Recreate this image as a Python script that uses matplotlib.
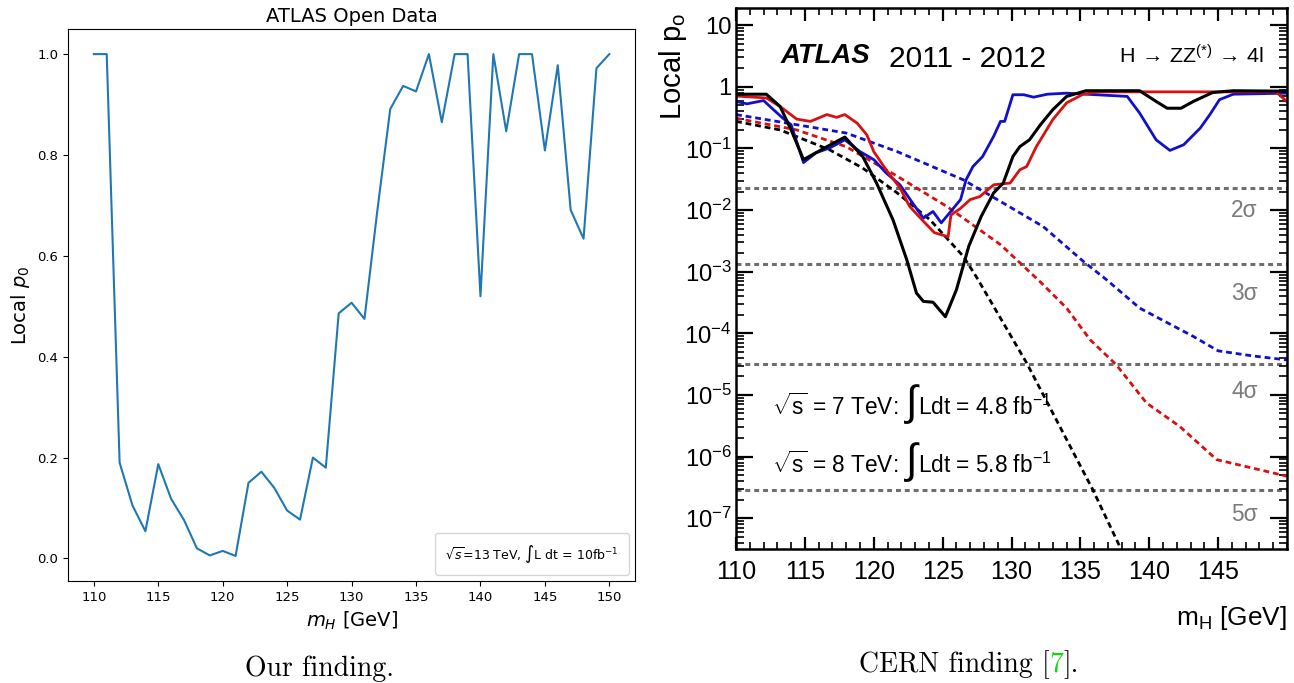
import numpy as np
import matplotlib
matplotlib.use('Agg')
import matplotlib.pyplot as plt
from matplotlib import font_manager
from matplotlib.font_manager import FontProperties
from matplotlib.lines import Line2D
from matplotlib.ticker import LogLocator, MultipleLocator, NullFormatter

# ---- our scan (1 GeV steps) ----
mass_ours = np.arange(110, 151)
p0_ours = [1.0, 1.0, 0.19, 0.105, 0.054, 0.187, 0.118, 0.076, 0.02, 0.006,
           0.015, 0.005, 0.15, 0.172, 0.14, 0.095, 0.077, 0.2, 0.18, 0.486,
           0.507, 0.475, 0.69, 0.891, 0.937, 0.926, 1.0, 0.865, 1.0, 1.0,
           0.52, 1.0, 0.847, 1.0, 1.0, 0.809, 0.978, 0.691, 0.634, 0.972, 1.0]

# ---- ATLAS 2011-2012 H->ZZ*->4l local p0 ----
m_obs_comb = [110, 112.2, 113.2, 114.0, 114.9, 116.6, 117.9, 119.2, 120.2, 121.4,
              122.4, 123.1, 123.6, 124.3, 125.2, 126.0, 126.9, 127.8, 128.7, 129.4,
              130.1, 130.6, 131.3, 132.1, 133.0, 134.0, 135.4, 139.3, 140.5, 141.3,
              142.3, 143.2, 144.6, 146.1, 150]
p_obs_comb = [0.76, 0.76, 0.48, 0.20, 0.066, 0.107, 0.153, 0.074, 0.0275, 0.0069,
              1.55e-3, 4.5e-4, 3.3e-4, 3.2e-4, 1.86e-4, 5.1e-4, 2.6e-3, 7.9e-3, 0.019, 0.0275,
              0.074, 0.107, 0.138, 0.243, 0.427, 0.70, 0.865, 0.865, 0.58, 0.45,
              0.45, 0.58, 0.81, 0.865, 0.85]

m_obs_8 = [110, 112.2, 113.2, 114.4, 115.4, 116.6, 117.3, 117.9, 118.8, 119.5,
           120.0, 120.9, 121.9, 122.6, 123.6, 124.4, 125.4, 125.6, 126.3, 127.0,
           127.7, 128.7, 129.9, 130.6, 131.1, 131.8, 133.0, 134.0, 135.2, 136.4,
           149.2, 150]
p_obs_8 = [0.71, 0.66, 0.48, 0.30, 0.275, 0.355, 0.32, 0.355, 0.257, 0.166,
           0.089, 0.045, 0.023, 0.0115, 6.6e-3, 4.3e-3, 3.7e-3, 8.3e-3, 0.0107, 0.0148,
           0.0166, 0.0257, 0.0275, 0.045, 0.051, 0.107, 0.295, 0.55, 0.76, 0.83,
           0.83, 0.575]

m_obs_7 = [110, 110.8, 112.0, 112.7, 113.4, 114.0, 114.9, 115.8, 116.8, 117.9,
           119.0, 120.0, 120.9, 121.9, 122.9, 123.6, 124.3, 124.9, 126.3, 126.7,
           127.2, 127.9, 128.7, 129.2, 129.5, 130.1, 130.9, 131.6, 132.6, 134.0,
           138.4, 139.3, 140.5, 141.5, 142.5, 143.7, 144.4, 145.1, 146.1, 150]
p_obs_7 = [0.58, 0.53, 0.60, 0.43, 0.31, 0.243, 0.059, 0.085, 0.102, 0.138,
           0.089, 0.066, 0.040, 0.0257, 0.0123, 7.4e-3, 9.5e-3, 6.2e-3, 0.0148, 0.031,
           0.051, 0.074, 0.157, 0.275, 0.275, 0.745, 0.745, 0.68, 0.76, 0.79,
           0.70, 0.376, 0.138, 0.093, 0.115, 0.214, 0.355, 0.62, 0.76, 0.79]

m_exp_7 = [110, 114.4, 118.0, 121.7, 126.5, 129.2, 132.3, 135.2, 136.9, 139.3,
           143.2, 145.0, 147.5, 150]
p_exp_7 = [0.355, 0.243, 0.178, 0.089, 0.031, 0.0138, 5.4e-3, 1.48e-3, 7.4e-4, 2.57e-4,
           8.9e-5, 5.2e-5, 4.3e-5, 3.7e-5]

m_exp_8 = [110, 114.4, 118.0, 121.7, 125.3, 129.2, 132.1, 134.0, 135.7, 137.6,
           139.8, 142.2, 144.9, 147.5, 150]
p_exp_8 = [0.31, 0.20, 0.107, 0.0355, 0.0115, 2.75e-3, 6.8e-4, 2.57e-4, 7.9e-5, 3.1e-5,
           7.4e-6, 3.1e-6, 8.9e-7, 6.5e-7, 4.8e-7]

m_exp_comb = [110, 113.2, 116.8, 119.2, 121.7, 124.1, 126.5, 127.5, 131.1, 135.9,
              137.75, 138.3]
p_exp_comb = [0.275, 0.20, 0.095, 0.048, 0.019, 6.9e-3, 1.78e-3, 7.9e-4, 3.3e-5, 2.9e-7,
              3.9e-8, 2.1e-8]

sigma_labels = ['2\u03c3', '3\u03c3', '4\u03c3', '5\u03c3']
sigma_p = [0.02275, 1.35e-3, 3.17e-5, 2.87e-7]
sigma_label_y = [0.614, 0.460, 0.279, 0.051]

yticks_log = [10.0 ** k for k in range(-7, 2)]
ytick_labels = [r'$\mathregular{10^{-%d}}$' % -k for k in range(-7, 0)] + ['1', '10']
xticks_cern = list(range(110, 150, 5))

lumi_lines = [('7', '4.8'), ('8', '5.8')]

# ---- fonts ----
names = {f.name for f in font_manager.fontManager.ttflist}
if 'Liberation Sans Narrow' in names:
    narrow, k = 'Liberation Sans Narrow', 1.0
else:
    narrow, k = 'Liberation Sans', 0.86
plt.rcParams['mathtext.rm'] = narrow
plt.rcParams['mathtext.it'] = narrow + ':italic'
plt.rcParams['mathtext.bf'] = narrow + ':bold'
plt.rcParams['mathtext.sf'] = narrow


def nfont(size, **kw):
    return FontProperties(family=narrow, size=size * k, math_fontfamily='custom', **kw)


fig = plt.figure(figsize=(12.94, 6.83), dpi=100)
rend = fig.canvas.get_renderer()


def text_row(x, y, parts, **kw):
    # lay pieces of text one after another along a common baseline
    for s, fp, extra, gap in parts:
        x += gap / fig.bbox.width
        t = fig.text(x, y, s, ha='left', va='baseline', fontproperties=fp, **extra, **kw)
        x = t.get_window_extent(rend).x1 / fig.bbox.width


# ================= left: our finding =================
ax1 = fig.add_axes([0.0526, 0.1493, 0.4382, 0.8082])
ax1.plot(mass_ours, p0_ours, color='#1f77b4', lw=1.5)
ax1.set_title('ATLAS Open Data', fontsize=14, pad=5)
ax1.set_xlabel('$m_H$ [GeV]', fontsize=14)
ax1.set_ylabel('Local $p_0$', fontsize=14)
ax1.tick_params(labelsize=9.5)
ax1.legend([Line2D([], [], linestyle='none')],
           [r'$\sqrt{s}$=13 TeV, $\int$L dt = 10fb$^{-1}$'],
           loc='lower right', handlelength=0, handletextpad=0, fontsize=9,
           borderpad=0.8)

# ================= right: CERN finding =================
ax2 = fig.add_axes([0.5688, 0.1962, 0.4258, 0.7921])
ax2.set_yscale('log')
ax2.set_xlim(110, 150)
ax2.set_ylim(10 ** -7.5, 10 ** 1.28)

for p in sigma_p:
    ax2.axhline(p, color='#6e6e6e', lw=2.2, linestyle=(0, (1.6, 1.3)), zorder=1)
for lbl, yy in zip(sigma_labels, sigma_label_y):
    ax2.text(0.947, yy, lbl, transform=ax2.transAxes, ha='right', va='baseline',
             color='#7a7a7a', fontproperties=nfont(19))

dash = (0, (2.1, 1.4))
ax2.plot(m_exp_7, p_exp_7, color='#1010cc', lw=2.0, linestyle=dash)
ax2.plot(m_exp_8, p_exp_8, color='#d81010', lw=2.0, linestyle=dash)
ax2.plot(m_exp_comb, p_exp_comb, color='black', lw=2.0, linestyle=dash)
ax2.plot(m_obs_7, p_obs_7, color='#1010cc', lw=2.0)
ax2.plot(m_obs_8, p_obs_8, color='#d81010', lw=2.0)
ax2.plot(m_obs_comb, p_obs_comb, color='black', lw=2.2)

ax2.set_yticks(yticks_log, labels=ytick_labels, fontproperties=nfont(20),
               math_fontfamily='custom')
ax2.yaxis.set_minor_locator(LogLocator(base=10, subs=np.arange(2, 10), numticks=30))
ax2.yaxis.set_minor_formatter(NullFormatter())
ax2.set_xticks(xticks_cern, labels=[str(v) for v in xticks_cern],
               fontproperties=nfont(21))
ax2.xaxis.set_minor_locator(MultipleLocator(1))
ax2.tick_params(which='both', direction='in', top=True, right=True)
ax2.tick_params(axis='y', which='major', length=12, width=1.6, pad=3)
ax2.tick_params(axis='y', which='minor', length=6, width=1.2)
ax2.tick_params(axis='x', which='major', length=9, width=1.6, pad=8)
ax2.tick_params(axis='x', which='minor', length=5, width=1.2)
for s in ax2.spines.values():
    s.set_linewidth(1.8)

ax2.text(0.0817, 0.898, 'ATLAS', transform=ax2.transAxes, ha='left', va='baseline',
         fontproperties=nfont(23, weight='bold', style='italic'))
ax2.text(0.2777, 0.8915, '2011 - 2012', transform=ax2.transAxes, ha='left',
         va='baseline', fontproperties=nfont(25))
ax2.text(0.958, 0.898, r'H$\,\rightarrow\,$ZZ$^{(*)}$$\,\rightarrow\,$4l',
         transform=ax2.transAxes, ha='right', va='baseline', fontproperties=nfont(18))
ax2.text(-0.114, 0.991, r'Local p$_{\mathrm{o}}$', transform=ax2.transAxes, rotation=90,
         ha='center', va='top', fontproperties=nfont(24.5))
ax2.text(1.0, -0.14, r'm$_{\mathrm{H}}$ [GeV]', transform=ax2.transAxes, ha='right',
         va='baseline', fontproperties=nfont(22))

# luminosity lines, with a tall integral sign
for (energy, lumi), base in zip(lumi_lines, [1 - 415 / 683, 1 - 473 / 683]):
    text_row(772 / 1294, base, [
        (r'$\sqrt{\mathrm{s}}$ = %s TeV:' % energy, nfont(19), {}, 0),
        ('\u222b', FontProperties(family=narrow, size=30), {}, 8),
        (r'Ldt = %s fb$^{\mathrm{-1}}$' % lumi, nfont(19), {}, 0),
    ])

# ================= captions =================
cap = FontProperties(family='cmr10', size=20)
fig.text(319 / 1294, 1 - 676 / 683, 'Our finding.', ha='center', va='baseline',
         fontproperties=cap)
text_row(859 / 1294, 1 - 672 / 683, [
    ('CERN finding [', cap, {}, 0),
    ('7', cap, {'color': '#12d812'}, 0),
    ('].', cap, {}, 0),
])

fig.savefig('out.png', dpi=100)
